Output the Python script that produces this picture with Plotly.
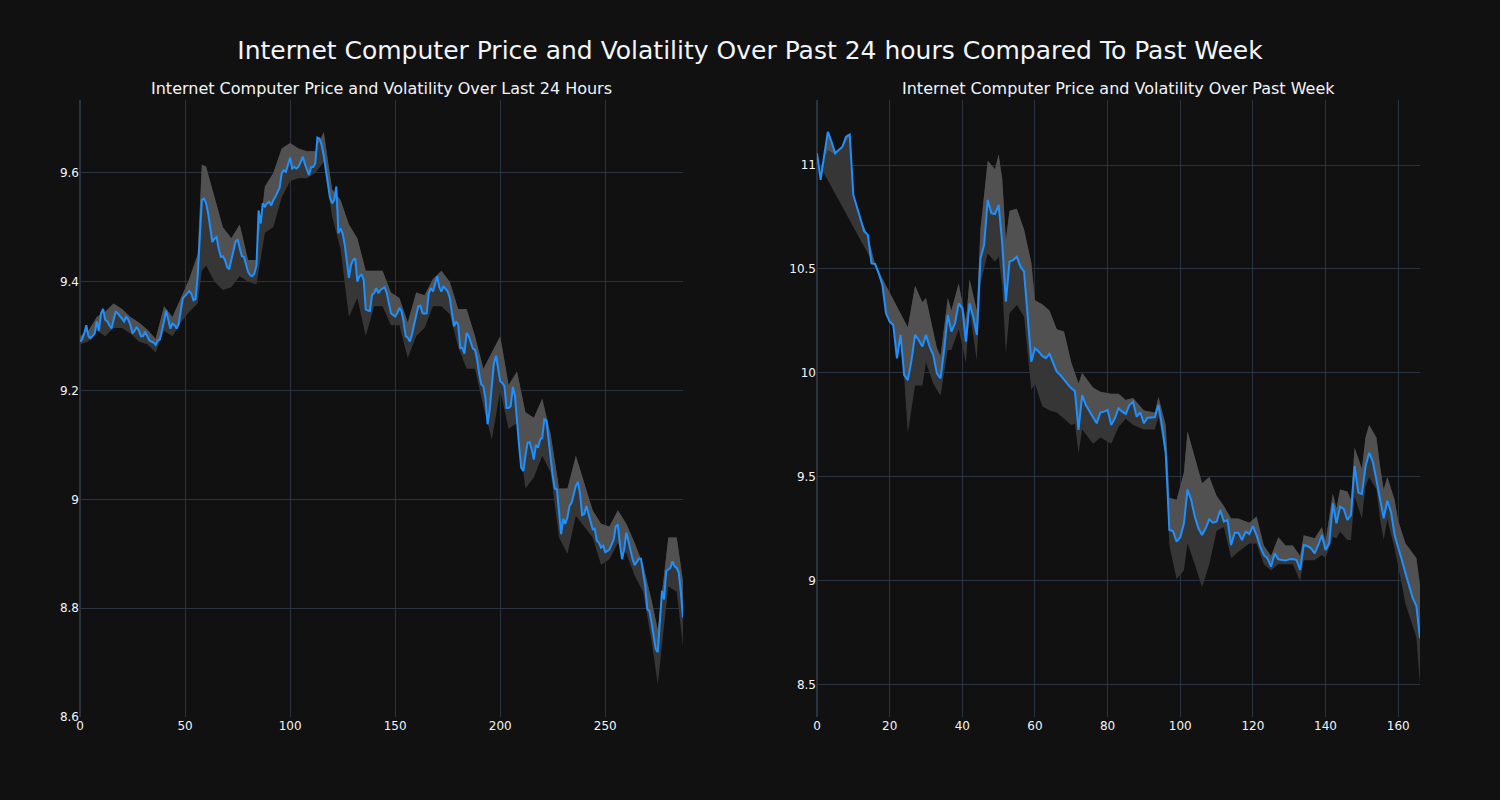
import plotly.graph_objects as go
from plotly.subplots import make_subplots

# ---------------- data: last 24 hours (5-min steps) ----------------
day_price = [
    9.290, 9.294, 9.305, 9.320, 9.300, 9.296, 9.300, 9.305, 9.327, 9.310,
    9.342, 9.350, 9.330, 9.327, 9.320, 9.314, 9.330, 9.345, 9.342, 9.337,
    9.330, 9.327, 9.336, 9.330, 9.320, 9.305, 9.310, 9.317, 9.310, 9.300,
    9.300, 9.308, 9.300, 9.292, 9.290, 9.288, 9.284, 9.292, 9.294, 9.308,
    9.327, 9.347, 9.330, 9.314, 9.323, 9.320, 9.314, 9.323, 9.348, 9.370,
    9.374, 9.378, 9.383, 9.378, 9.366, 9.368, 9.410, 9.480, 9.550, 9.553,
    9.544, 9.525, 9.500, 9.473, 9.479, 9.482, 9.461, 9.446, 9.447, 9.440,
    9.427, 9.423, 9.440, 9.458, 9.473, 9.478, 9.461, 9.447, 9.446, 9.434,
    9.418, 9.412, 9.410, 9.415, 9.430, 9.531, 9.507, 9.544, 9.538, 9.544,
    9.547, 9.540, 9.550, 9.556, 9.565, 9.573, 9.599, 9.605, 9.602, 9.614,
    9.628, 9.608, 9.611, 9.608, 9.611, 9.620, 9.630, 9.617, 9.605, 9.596,
    9.611, 9.611, 9.618, 9.665, 9.663, 9.651, 9.632, 9.605, 9.578, 9.554,
    9.544, 9.550, 9.575, 9.489, 9.498, 9.489, 9.468, 9.434, 9.407, 9.431,
    9.440, 9.443, 9.400, 9.410, 9.413, 9.404, 9.349, 9.347, 9.346, 9.376,
    9.379, 9.388, 9.379, 9.385, 9.388, 9.390, 9.379, 9.360, 9.342, 9.339,
    9.336, 9.342, 9.352, 9.346, 9.327, 9.300, 9.297, 9.290, 9.303, 9.321,
    9.339, 9.355, 9.356, 9.342, 9.341, 9.342, 9.379, 9.388, 9.382, 9.397,
    9.410, 9.390, 9.382, 9.392, 9.386, 9.382, 9.370, 9.345, 9.318, 9.327,
    9.321, 9.278, 9.278, 9.268, 9.306, 9.300, 9.290, 9.277, 9.275, 9.257,
    9.230, 9.211, 9.208, 9.184, 9.138, 9.165, 9.208, 9.250, 9.264, 9.238,
    9.217, 9.214, 9.208, 9.168, 9.168, 9.171, 9.207, 9.190, 9.140, 9.098,
    9.058, 9.052, 9.080, 9.104, 9.105, 9.092, 9.073, 9.100, 9.095, 9.110,
    9.113, 9.147, 9.145, 9.104, 9.076, 9.043, 9.020, 9.018, 8.975, 8.936,
    8.964, 8.955, 8.967, 8.988, 8.994, 9.012, 9.025, 9.032, 9.010, 8.971,
    8.973, 8.988, 8.975, 8.958, 8.945, 8.946, 8.924, 8.920, 8.911, 8.915,
    8.903, 8.905, 8.908, 8.917, 8.926, 8.950, 8.954, 8.917, 8.890, 8.908,
    8.939, 8.924, 8.905, 8.890, 8.879, 8.884, 8.891, 8.891, 8.865, 8.841,
    8.798, 8.795, 8.774, 8.746, 8.725, 8.719, 8.768, 8.832, 8.816, 8.868,
    8.871, 8.874, 8.886, 8.877, 8.874, 8.865, 8.828, 8.783,
]
day_x = list(range(len(day_price)))

day_band_x = [0, 4, 8, 12, 16, 20, 24, 28, 32, 36, 40, 44, 48, 52, 56, 58, 60, 64, 68, 72,
              76, 80, 84, 88, 92, 96, 100, 104, 108, 112, 116, 120, 124, 128, 132, 136,
              140, 144, 148, 152, 156, 160, 164, 168, 172, 176, 180, 184, 188, 192, 196,
              200, 204, 208, 212, 216, 220, 224, 228, 232, 236, 240, 244, 248, 252, 256,
              260, 264, 268, 272, 275, 280, 284, 287]
day_band_upper = [9.300, 9.310, 9.335, 9.345, 9.360, 9.350, 9.335, 9.325, 9.312, 9.295,
                  9.355, 9.335, 9.370, 9.405, 9.450, 9.615, 9.612, 9.555, 9.500, 9.480,
                  9.505, 9.440, 9.440, 9.575, 9.600, 9.645, 9.655, 9.645, 9.640, 9.640,
                  9.675, 9.570, 9.550, 9.505, 9.480, 9.420, 9.420, 9.420, 9.380, 9.370,
                  9.325, 9.380, 9.375, 9.405, 9.420, 9.400, 9.350, 9.350, 9.300, 9.240,
                  9.270, 9.300, 9.210, 9.235, 9.160, 9.150, 9.185, 9.120, 9.020, 9.020,
                  9.080, 9.030, 8.980, 8.955, 8.950, 8.980, 8.955, 8.920, 8.880, 8.815,
                  8.760, 8.930, 8.930, 8.850]
day_band_lower = [9.285, 9.290, 9.310, 9.300, 9.315, 9.315, 9.305, 9.290, 9.285, 9.270,
                  9.310, 9.300, 9.325, 9.345, 9.360, 9.420, 9.430, 9.400, 9.385, 9.390,
                  9.410, 9.400, 9.395, 9.490, 9.500, 9.555, 9.585, 9.590, 9.590, 9.600,
                  9.620, 9.520, 9.460, 9.335, 9.370, 9.300, 9.355, 9.355, 9.320, 9.320,
                  9.260, 9.300, 9.315, 9.355, 9.355, 9.340, 9.280, 9.240, 9.240, 9.170,
                  9.110, 9.200, 9.130, 9.140, 9.020, 9.040, 9.080, 9.050, 8.930, 8.900,
                  8.970, 8.950, 8.930, 8.880, 8.890, 8.920, 8.900, 8.860, 8.830, 8.740,
                  8.660, 8.840, 8.830, 8.730]

# ---------------- data: past week (hourly steps) ----------------
week_price = [
    11.056, 10.928, 11.048, 11.160, 11.112, 11.056, 11.072, 11.088, 11.136, 11.147,
    10.856, 10.800, 10.736, 10.680, 10.664, 10.527, 10.524, 10.479, 10.423, 10.287,
    10.247, 10.231, 10.070, 10.183, 9.990, 9.966, 10.060, 10.183, 10.159, 10.127,
    10.183, 10.127, 10.087, 9.998, 9.974, 10.111, 10.279, 10.199, 10.239, 10.335,
    10.311, 10.151, 10.335, 10.271, 10.183, 10.551, 10.615, 10.832, 10.768, 10.764,
    10.808, 10.623, 10.343, 10.535, 10.543, 10.559, 10.511, 10.487, 10.271, 10.054,
    10.119, 10.103, 10.082, 10.071, 10.092, 10.046, 10.006, 9.990, 9.966, 9.946,
    9.926, 9.913, 9.726, 9.894, 9.846, 9.814, 9.787, 9.758, 9.810, 9.814,
    9.822, 9.750, 9.782, 9.830, 9.814, 9.803, 9.846, 9.862, 9.790, 9.810,
    9.758, 9.785, 9.787, 9.787, 9.846, 9.742, 9.614, 9.245, 9.240, 9.189,
    9.210, 9.276, 9.440, 9.390, 9.310, 9.253, 9.221, 9.253, 9.297, 9.280,
    9.285, 9.341, 9.285, 9.293, 9.173, 9.232, 9.232, 9.197, 9.237, 9.226,
    9.264, 9.221, 9.165, 9.125, 9.109, 9.069, 9.133, 9.104, 9.101, 9.098,
    9.104, 9.106, 9.101, 9.053, 9.173, 9.168, 9.157, 9.133, 9.173, 9.221,
    9.149, 9.181, 9.373, 9.277, 9.357, 9.346, 9.293, 9.317, 9.553, 9.425,
    9.418, 9.550, 9.617, 9.574, 9.486, 9.390, 9.301, 9.386, 9.333, 9.221,
    9.165, 9.101, 9.037, 8.981, 8.917, 8.880, 8.725,
]
week_x = list(range(len(week_price)))

week_upper_x = [1, 3, 5, 7, 9, 10, 12, 14, 16, 25, 27, 29, 30, 31, 33, 34, 36, 37, 39, 41,
                42, 44, 45, 47, 49, 50, 51, 52, 53, 55, 57, 59, 60, 62, 64, 66, 68, 70, 71,
                72, 73, 76, 78, 81, 83, 85, 87, 90, 93, 94, 96, 97, 99, 101, 102, 104, 106,
                108, 110, 112, 114, 116, 119, 121, 123, 125, 127, 129, 131, 133, 134, 137,
                139, 140, 142, 143, 144, 146, 147, 148, 150, 151, 152, 154, 155, 156, 157,
                159, 160, 162, 165, 166]
week_upper = [10.99, 11.07, 11.05, 11.08, 11.14, 10.86, 10.74, 10.66, 10.52, 10.22, 10.42,
              10.34, 10.36, 10.28, 10.12, 10.08, 10.36, 10.30, 10.43, 10.25, 10.45, 10.30,
              10.69, 11.02, 10.98, 11.05, 10.93, 10.64, 10.78, 10.79, 10.69, 10.53, 10.35,
              10.33, 10.30, 10.21, 10.20, 10.05, 10.00, 9.95, 10.00, 9.93, 9.91, 9.90, 9.90,
              9.87, 9.88, 9.82, 9.81, 9.885, 9.75, 9.40, 9.39, 9.52, 9.72, 9.60, 9.47, 9.50,
              9.41, 9.36, 9.30, 9.30, 9.28, 9.31, 9.17, 9.12, 9.21, 9.17, 9.17, 9.12, 9.22,
              9.205, 9.26, 9.19, 9.42, 9.35, 9.44, 9.43, 9.39, 9.64, 9.54, 9.69, 9.75, 9.69,
              9.55, 9.44, 9.50, 9.39, 9.29, 9.18, 9.11, 8.98]

week_lower_x = [1, 16, 17, 18, 19, 20, 21, 22, 23, 24, 25, 27, 29, 30, 32, 34, 36, 37, 39,
                41, 42, 44, 45, 47, 49, 50, 51, 52, 53, 55, 57, 59, 60, 62, 64, 66, 68, 70,
                71, 72, 73, 76, 78, 81, 83, 85, 87, 90, 93, 94, 96, 97, 99, 101, 102, 104,
                106, 108, 110, 112, 114, 116, 119, 121, 123, 125, 127, 129, 131, 133, 134,
                137, 139, 140, 142, 143, 144, 146, 147, 148, 150, 151, 152, 154, 155, 156,
                157, 159, 160, 162, 165, 166]
week_lower = [10.99, 10.51, 10.47, 10.41, 10.28, 10.24, 10.22, 10.06, 10.17, 9.98, 9.71,
              9.94, 9.94, 10.05, 9.95, 9.89, 10.11, 10.11, 10.21, 10.05, 10.30, 10.06, 10.43,
              10.575, 10.535, 10.56, 10.415, 10.095, 10.287, 10.327, 10.27, 9.918, 9.95,
              9.84, 9.82, 9.81, 9.78, 9.75, 9.756, 9.614, 9.728, 9.66, 9.69, 9.66, 9.74,
              9.78, 9.75, 9.728, 9.728, 9.79, 9.60, 9.17, 9.01, 9.05, 9.18, 9.08, 8.97, 9.08,
              9.24, 9.26, 9.11, 9.14, 9.18, 9.18, 9.08, 9.05, 9.08, 9.08, 9.08, 9.00, 9.10,
              9.10, 9.125, 9.11, 9.213, 9.205, 9.237, 9.197, 9.197, 9.405, 9.30, 9.454, 9.50,
              9.44, 9.295, 9.197, 9.295, 9.157, 9.069, 8.89, 8.73, 8.50]

main_title = "Internet Computer Price and Volatility Over Past 24 hours Compared To Past Week"
left_title = "Internet Computer Price and Volatility Over Last 24 Hours"
right_title = "Internet Computer Price and Volatility Over Past Week"

LINE = "#1E90FF"
DARK_BAND = "#363636"
LIGHT_BAND = "#515151"
BG = "#111111"
GRID = "#283442"

fig = make_subplots(rows=1, cols=2, subplot_titles=(left_title, right_title),
                    horizontal_spacing=0.1)


def add_panel(col, px, py, ux, uy, lx, ly):
    # full band (lower -> upper), darker
    fig.add_trace(go.Scatter(x=ux + lx[::-1], y=uy + ly[::-1], fill="toself",
                             fillcolor=DARK_BAND, line=dict(width=0), mode="lines",
                             hoverinfo="skip", showlegend=False), row=1, col=col)
    # upper part (price -> upper), lighter
    start = ux[0]
    sx = [x for x in px if x >= start]
    sy = [y for x, y in zip(px, py) if x >= start]
    fig.add_trace(go.Scatter(x=ux + sx[::-1], y=uy + sy[::-1], fill="toself",
                             fillcolor=LIGHT_BAND, line=dict(width=0), mode="lines",
                             hoverinfo="skip", showlegend=False), row=1, col=col)
    fig.add_trace(go.Scatter(x=px, y=py, mode="lines", line=dict(color=LINE, width=2),
                             showlegend=False), row=1, col=col)


add_panel(1, day_x, day_price, day_band_x, day_band_upper, day_band_x, day_band_lower)
add_panel(2, week_x, week_price, week_upper_x, week_upper, week_lower_x, week_lower)

fig.update_layout(
    template="plotly_dark",
    width=1500, height=800,
    paper_bgcolor=BG, plot_bgcolor=BG,
    margin=dict(l=80, r=80, t=100, b=83),
    font=dict(family="DejaVu Sans", color="#f2f5fa", size=12),
    title=dict(text=main_title, x=0.5, xanchor="center", y=0.9375, yanchor="middle",
               font=dict(size=25, family="DejaVu Sans")),
    showlegend=False,
)
for ann in fig.layout.annotations:
    ann.font = dict(size=16, family="DejaVu Sans", color="#f2f5fa")

fig.update_xaxes(range=[0, 287], gridcolor=GRID, zerolinecolor=GRID, row=1, col=1)
fig.update_xaxes(range=[0, 166], gridcolor=GRID, zerolinecolor=GRID, row=1, col=2)
fig.update_yaxes(range=[8.6, 9.734], dtick=0.2, gridcolor=GRID, zeroline=False, row=1, col=1)
fig.update_yaxes(range=[8.346, 11.3125], dtick=0.5, gridcolor=GRID, zeroline=False, row=1, col=2)

fig.write_html("out.html",
               config={"displayModeBar": False},
               post_script="document.body.style.margin='0';document.body.style.background='#111111';")
